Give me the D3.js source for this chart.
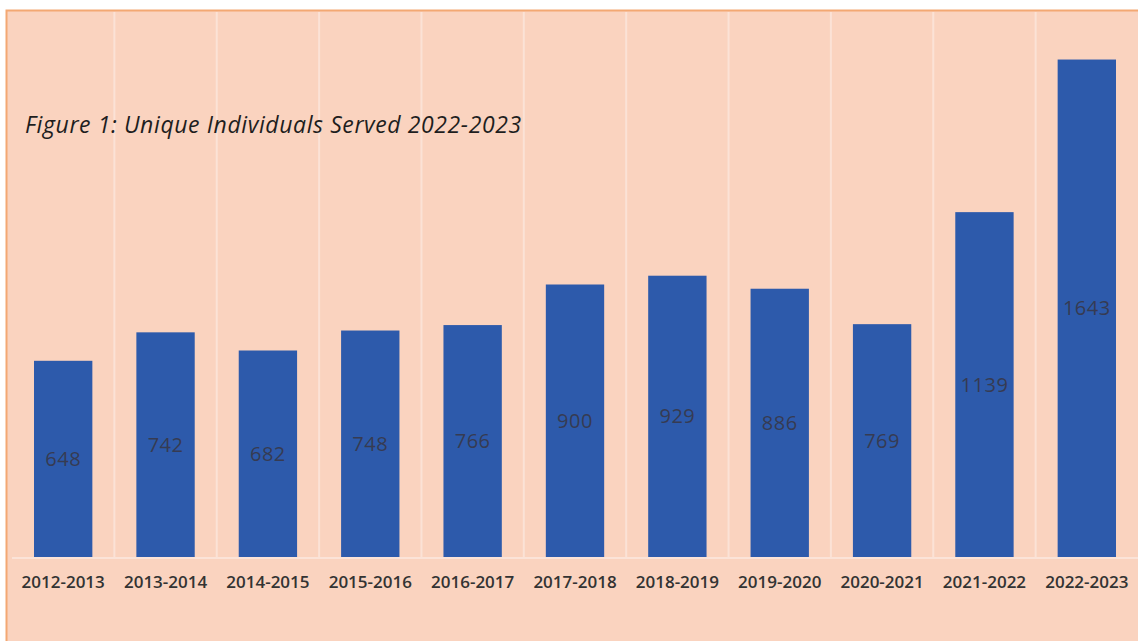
<!DOCTYPE html>
<html lang="en">
<head>
    <meta charset="UTF-8">
    <title>Unique Individuals Served 2022-2023</title>
    <script src="https://d3js.org/d3.v7.min.js"></script>
    <style>
        body {
            margin: 0;
            background: #ffffff;
        }
        svg {
            display: block;
        }
        .bar {
            fill: #2d5aab;
        }
        .tick-label {
            font-family: "Open Sans", sans-serif;
            font-weight: 600;
            font-size: 17px;
            fill: #333333;
        }
        .value-label {
            font-family: "Open Sans", sans-serif;
            font-size: 20px;
            letter-spacing: 0.5px;
            fill: #363b52;
        }
        .title {
            font-family: "Open Sans", sans-serif;
            font-style: italic;
            font-weight: 500;
            font-size: 23px;
            letter-spacing: 0.6px;
            fill: #1e1e1e;
        }
    </style>
</head>
<body>
    <svg width="1138" height="641"></svg>

    <script>
        // School years and number of unique individuals served
        const years = ["2012-2013", "2013-2014", "2014-2015", "2015-2016", "2016-2017", "2017-2018",
                       "2018-2019", "2019-2020", "2020-2021", "2021-2022", "2022-2023"];
        const served = [648, 742, 682, 748, 766, 900, 929, 886, 769, 1139, 1643];
        const yDomain = [0, 1800];

        const data = years.map((y, i) => ({ year: y, value: served[i] }));

        const margin = { top: 12, right: 0, bottom: 84, left: 12 },
              width = 1138 - margin.left - margin.right,
              height = 641 - margin.top - margin.bottom;

        const svg = d3.select("svg");

        // peach chart area with orange frame on top and left
        svg.append("rect")
           .attr("x", 6)
           .attr("y", 10)
           .attr("width", 1138)
           .attr("height", 641)
           .attr("fill", "#fad3bf");

        svg.append("path")
           .attr("d", "M6.5,641 V10.5 H1138")
           .attr("fill", "none")
           .attr("stroke", "#f3a873")
           .attr("stroke-width", 2);

        const g = svg.append("g")
                     .attr("transform", `translate(${margin.left},${margin.top})`);

        const x = d3.scaleBand()
                    .domain(years)
                    .range([0, width])
                    .paddingInner(0.43)
                    .paddingOuter(0.215);

        const y = d3.scaleLinear()
                    .domain(yDomain)
                    .range([height, 0]);

        // faint vertical separators between categories
        const step = x.step();
        g.selectAll(".sep")
         .data(years.slice(1))
         .enter().append("line")
         .attr("class", "sep")
         .attr("x1", d => x(d) - step * 0.215)
         .attr("x2", d => x(d) - step * 0.215)
         .attr("y1", 0)
         .attr("y2", height)
         .attr("stroke", "#fbe2d6")
         .attr("stroke-width", 2);

        // baseline
        g.append("line")
         .attr("x1", 0)
         .attr("x2", width)
         .attr("y1", y(0) + 1)
         .attr("y2", y(0) + 1)
         .attr("stroke", "#fbe3d8")
         .attr("stroke-width", 2);

        // bars
        g.selectAll(".bar")
         .data(data)
         .enter().append("rect")
         .attr("class", "bar")
         .attr("x", d => x(d.year))
         .attr("y", d => y(d.value))
         .attr("width", x.bandwidth())
         .attr("height", d => y(0) - y(d.value));

        // value labels in the middle of each bar
        g.selectAll(".value-label")
         .data(data)
         .enter().append("text")
         .attr("class", "value-label")
         .attr("x", d => x(d.year) + x.bandwidth() / 2)
         .attr("y", d => (y(d.value) + y(0)) / 2)
         .attr("dy", "0.35em")
         .attr("text-anchor", "middle")
         .text(d => d.value);

        // x axis
        const xAxis = g.append("g")
                       .attr("transform", `translate(0,${height})`)
                       .call(d3.axisBottom(x).tickSize(0).tickPadding(19));
        xAxis.select(".domain").remove();
        xAxis.selectAll(".tick text")
             .attr("class", "tick-label")
             .attr("font-family", null)
             .attr("font-size", null);

        // title
        svg.append("text")
           .attr("class", "title")
           .attr("x", 25)
           .attr("y", 133)
           .text("Figure 1: Unique Individuals Served 2022-2023");
    </script>
</body>
</html>
